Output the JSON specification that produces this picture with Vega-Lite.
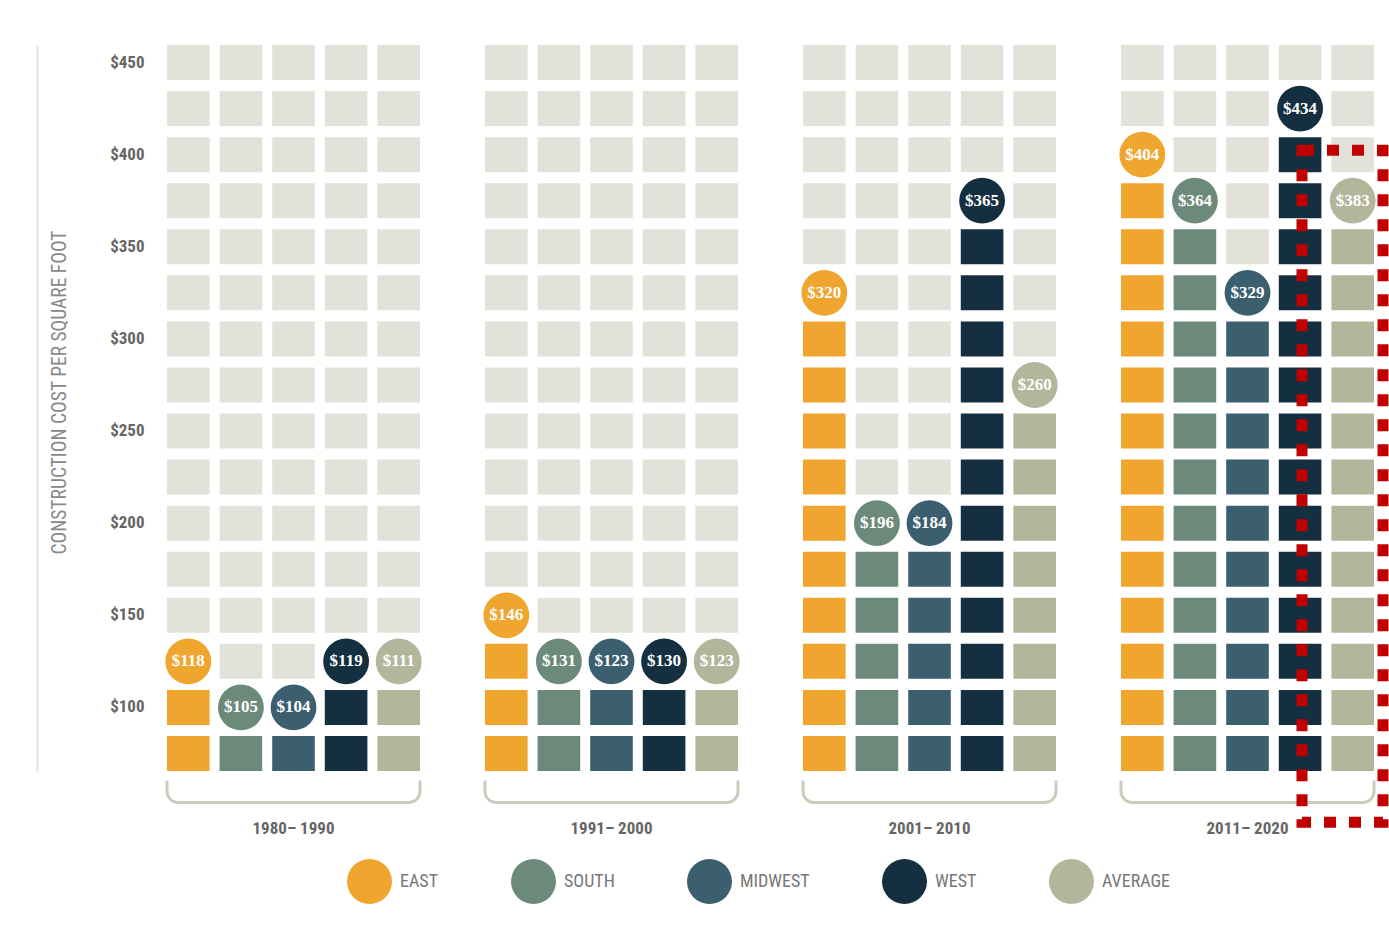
{
 "$schema": "https://vega.github.io/schema/vega-lite/v6.json",
 "autosize": {"type": "pad"},
 "padding": {"left": 37, "top": 45, "right": 0, "bottom": 0},
 "background": "#ffffff",
 "data": {"values": [
{"d":"1980– 1990","r":"EAST","l":75,"s":"f"},{"d":"1980– 1990","r":"EAST","l":100,"s":"f"},{"d":"1980– 1990","r":"EAST","l":125,"s":"c","v":118},{"d":"1980– 1990","r":"EAST","l":150,"s":"b"},{"d":"1980– 1990","r":"EAST","l":175,"s":"b"},{"d":"1980– 1990","r":"EAST","l":200,"s":"b"},{"d":"1980– 1990","r":"EAST","l":225,"s":"b"},{"d":"1980– 1990","r":"EAST","l":250,"s":"b"},{"d":"1980– 1990","r":"EAST","l":275,"s":"b"},{"d":"1980– 1990","r":"EAST","l":300,"s":"b"},{"d":"1980– 1990","r":"EAST","l":325,"s":"b"},{"d":"1980– 1990","r":"EAST","l":350,"s":"b"},{"d":"1980– 1990","r":"EAST","l":375,"s":"b"},{"d":"1980– 1990","r":"EAST","l":400,"s":"b"},{"d":"1980– 1990","r":"EAST","l":425,"s":"b"},{"d":"1980– 1990","r":"EAST","l":450,"s":"b"},
{"d":"1980– 1990","r":"SOUTH","l":75,"s":"f"},{"d":"1980– 1990","r":"SOUTH","l":100,"s":"c","v":105},{"d":"1980– 1990","r":"SOUTH","l":125,"s":"b"},{"d":"1980– 1990","r":"SOUTH","l":150,"s":"b"},{"d":"1980– 1990","r":"SOUTH","l":175,"s":"b"},{"d":"1980– 1990","r":"SOUTH","l":200,"s":"b"},{"d":"1980– 1990","r":"SOUTH","l":225,"s":"b"},{"d":"1980– 1990","r":"SOUTH","l":250,"s":"b"},{"d":"1980– 1990","r":"SOUTH","l":275,"s":"b"},{"d":"1980– 1990","r":"SOUTH","l":300,"s":"b"},{"d":"1980– 1990","r":"SOUTH","l":325,"s":"b"},{"d":"1980– 1990","r":"SOUTH","l":350,"s":"b"},{"d":"1980– 1990","r":"SOUTH","l":375,"s":"b"},{"d":"1980– 1990","r":"SOUTH","l":400,"s":"b"},{"d":"1980– 1990","r":"SOUTH","l":425,"s":"b"},{"d":"1980– 1990","r":"SOUTH","l":450,"s":"b"},
{"d":"1980– 1990","r":"MIDWEST","l":75,"s":"f"},{"d":"1980– 1990","r":"MIDWEST","l":100,"s":"c","v":104},{"d":"1980– 1990","r":"MIDWEST","l":125,"s":"b"},{"d":"1980– 1990","r":"MIDWEST","l":150,"s":"b"},{"d":"1980– 1990","r":"MIDWEST","l":175,"s":"b"},{"d":"1980– 1990","r":"MIDWEST","l":200,"s":"b"},{"d":"1980– 1990","r":"MIDWEST","l":225,"s":"b"},{"d":"1980– 1990","r":"MIDWEST","l":250,"s":"b"},{"d":"1980– 1990","r":"MIDWEST","l":275,"s":"b"},{"d":"1980– 1990","r":"MIDWEST","l":300,"s":"b"},{"d":"1980– 1990","r":"MIDWEST","l":325,"s":"b"},{"d":"1980– 1990","r":"MIDWEST","l":350,"s":"b"},{"d":"1980– 1990","r":"MIDWEST","l":375,"s":"b"},{"d":"1980– 1990","r":"MIDWEST","l":400,"s":"b"},{"d":"1980– 1990","r":"MIDWEST","l":425,"s":"b"},{"d":"1980– 1990","r":"MIDWEST","l":450,"s":"b"},
{"d":"1980– 1990","r":"WEST","l":75,"s":"f"},{"d":"1980– 1990","r":"WEST","l":100,"s":"f"},{"d":"1980– 1990","r":"WEST","l":125,"s":"c","v":119},{"d":"1980– 1990","r":"WEST","l":150,"s":"b"},{"d":"1980– 1990","r":"WEST","l":175,"s":"b"},{"d":"1980– 1990","r":"WEST","l":200,"s":"b"},{"d":"1980– 1990","r":"WEST","l":225,"s":"b"},{"d":"1980– 1990","r":"WEST","l":250,"s":"b"},{"d":"1980– 1990","r":"WEST","l":275,"s":"b"},{"d":"1980– 1990","r":"WEST","l":300,"s":"b"},{"d":"1980– 1990","r":"WEST","l":325,"s":"b"},{"d":"1980– 1990","r":"WEST","l":350,"s":"b"},{"d":"1980– 1990","r":"WEST","l":375,"s":"b"},{"d":"1980– 1990","r":"WEST","l":400,"s":"b"},{"d":"1980– 1990","r":"WEST","l":425,"s":"b"},{"d":"1980– 1990","r":"WEST","l":450,"s":"b"},
{"d":"1980– 1990","r":"AVERAGE","l":75,"s":"f"},{"d":"1980– 1990","r":"AVERAGE","l":100,"s":"f"},{"d":"1980– 1990","r":"AVERAGE","l":125,"s":"c","v":111},{"d":"1980– 1990","r":"AVERAGE","l":150,"s":"b"},{"d":"1980– 1990","r":"AVERAGE","l":175,"s":"b"},{"d":"1980– 1990","r":"AVERAGE","l":200,"s":"b"},{"d":"1980– 1990","r":"AVERAGE","l":225,"s":"b"},{"d":"1980– 1990","r":"AVERAGE","l":250,"s":"b"},{"d":"1980– 1990","r":"AVERAGE","l":275,"s":"b"},{"d":"1980– 1990","r":"AVERAGE","l":300,"s":"b"},{"d":"1980– 1990","r":"AVERAGE","l":325,"s":"b"},{"d":"1980– 1990","r":"AVERAGE","l":350,"s":"b"},{"d":"1980– 1990","r":"AVERAGE","l":375,"s":"b"},{"d":"1980– 1990","r":"AVERAGE","l":400,"s":"b"},{"d":"1980– 1990","r":"AVERAGE","l":425,"s":"b"},{"d":"1980– 1990","r":"AVERAGE","l":450,"s":"b"},
{"d":"1991– 2000","r":"EAST","l":75,"s":"f"},{"d":"1991– 2000","r":"EAST","l":100,"s":"f"},{"d":"1991– 2000","r":"EAST","l":125,"s":"f"},{"d":"1991– 2000","r":"EAST","l":150,"s":"c","v":146},{"d":"1991– 2000","r":"EAST","l":175,"s":"b"},{"d":"1991– 2000","r":"EAST","l":200,"s":"b"},{"d":"1991– 2000","r":"EAST","l":225,"s":"b"},{"d":"1991– 2000","r":"EAST","l":250,"s":"b"},{"d":"1991– 2000","r":"EAST","l":275,"s":"b"},{"d":"1991– 2000","r":"EAST","l":300,"s":"b"},{"d":"1991– 2000","r":"EAST","l":325,"s":"b"},{"d":"1991– 2000","r":"EAST","l":350,"s":"b"},{"d":"1991– 2000","r":"EAST","l":375,"s":"b"},{"d":"1991– 2000","r":"EAST","l":400,"s":"b"},{"d":"1991– 2000","r":"EAST","l":425,"s":"b"},{"d":"1991– 2000","r":"EAST","l":450,"s":"b"},
{"d":"1991– 2000","r":"SOUTH","l":75,"s":"f"},{"d":"1991– 2000","r":"SOUTH","l":100,"s":"f"},{"d":"1991– 2000","r":"SOUTH","l":125,"s":"c","v":131},{"d":"1991– 2000","r":"SOUTH","l":150,"s":"b"},{"d":"1991– 2000","r":"SOUTH","l":175,"s":"b"},{"d":"1991– 2000","r":"SOUTH","l":200,"s":"b"},{"d":"1991– 2000","r":"SOUTH","l":225,"s":"b"},{"d":"1991– 2000","r":"SOUTH","l":250,"s":"b"},{"d":"1991– 2000","r":"SOUTH","l":275,"s":"b"},{"d":"1991– 2000","r":"SOUTH","l":300,"s":"b"},{"d":"1991– 2000","r":"SOUTH","l":325,"s":"b"},{"d":"1991– 2000","r":"SOUTH","l":350,"s":"b"},{"d":"1991– 2000","r":"SOUTH","l":375,"s":"b"},{"d":"1991– 2000","r":"SOUTH","l":400,"s":"b"},{"d":"1991– 2000","r":"SOUTH","l":425,"s":"b"},{"d":"1991– 2000","r":"SOUTH","l":450,"s":"b"},
{"d":"1991– 2000","r":"MIDWEST","l":75,"s":"f"},{"d":"1991– 2000","r":"MIDWEST","l":100,"s":"f"},{"d":"1991– 2000","r":"MIDWEST","l":125,"s":"c","v":123},{"d":"1991– 2000","r":"MIDWEST","l":150,"s":"b"},{"d":"1991– 2000","r":"MIDWEST","l":175,"s":"b"},{"d":"1991– 2000","r":"MIDWEST","l":200,"s":"b"},{"d":"1991– 2000","r":"MIDWEST","l":225,"s":"b"},{"d":"1991– 2000","r":"MIDWEST","l":250,"s":"b"},{"d":"1991– 2000","r":"MIDWEST","l":275,"s":"b"},{"d":"1991– 2000","r":"MIDWEST","l":300,"s":"b"},{"d":"1991– 2000","r":"MIDWEST","l":325,"s":"b"},{"d":"1991– 2000","r":"MIDWEST","l":350,"s":"b"},{"d":"1991– 2000","r":"MIDWEST","l":375,"s":"b"},{"d":"1991– 2000","r":"MIDWEST","l":400,"s":"b"},{"d":"1991– 2000","r":"MIDWEST","l":425,"s":"b"},{"d":"1991– 2000","r":"MIDWEST","l":450,"s":"b"},
{"d":"1991– 2000","r":"WEST","l":75,"s":"f"},{"d":"1991– 2000","r":"WEST","l":100,"s":"f"},{"d":"1991– 2000","r":"WEST","l":125,"s":"c","v":130},{"d":"1991– 2000","r":"WEST","l":150,"s":"b"},{"d":"1991– 2000","r":"WEST","l":175,"s":"b"},{"d":"1991– 2000","r":"WEST","l":200,"s":"b"},{"d":"1991– 2000","r":"WEST","l":225,"s":"b"},{"d":"1991– 2000","r":"WEST","l":250,"s":"b"},{"d":"1991– 2000","r":"WEST","l":275,"s":"b"},{"d":"1991– 2000","r":"WEST","l":300,"s":"b"},{"d":"1991– 2000","r":"WEST","l":325,"s":"b"},{"d":"1991– 2000","r":"WEST","l":350,"s":"b"},{"d":"1991– 2000","r":"WEST","l":375,"s":"b"},{"d":"1991– 2000","r":"WEST","l":400,"s":"b"},{"d":"1991– 2000","r":"WEST","l":425,"s":"b"},{"d":"1991– 2000","r":"WEST","l":450,"s":"b"},
{"d":"1991– 2000","r":"AVERAGE","l":75,"s":"f"},{"d":"1991– 2000","r":"AVERAGE","l":100,"s":"f"},{"d":"1991– 2000","r":"AVERAGE","l":125,"s":"c","v":123},{"d":"1991– 2000","r":"AVERAGE","l":150,"s":"b"},{"d":"1991– 2000","r":"AVERAGE","l":175,"s":"b"},{"d":"1991– 2000","r":"AVERAGE","l":200,"s":"b"},{"d":"1991– 2000","r":"AVERAGE","l":225,"s":"b"},{"d":"1991– 2000","r":"AVERAGE","l":250,"s":"b"},{"d":"1991– 2000","r":"AVERAGE","l":275,"s":"b"},{"d":"1991– 2000","r":"AVERAGE","l":300,"s":"b"},{"d":"1991– 2000","r":"AVERAGE","l":325,"s":"b"},{"d":"1991– 2000","r":"AVERAGE","l":350,"s":"b"},{"d":"1991– 2000","r":"AVERAGE","l":375,"s":"b"},{"d":"1991– 2000","r":"AVERAGE","l":400,"s":"b"},{"d":"1991– 2000","r":"AVERAGE","l":425,"s":"b"},{"d":"1991– 2000","r":"AVERAGE","l":450,"s":"b"},
{"d":"2001– 2010","r":"EAST","l":75,"s":"f"},{"d":"2001– 2010","r":"EAST","l":100,"s":"f"},{"d":"2001– 2010","r":"EAST","l":125,"s":"f"},{"d":"2001– 2010","r":"EAST","l":150,"s":"f"},{"d":"2001– 2010","r":"EAST","l":175,"s":"f"},{"d":"2001– 2010","r":"EAST","l":200,"s":"f"},{"d":"2001– 2010","r":"EAST","l":225,"s":"f"},{"d":"2001– 2010","r":"EAST","l":250,"s":"f"},{"d":"2001– 2010","r":"EAST","l":275,"s":"f"},{"d":"2001– 2010","r":"EAST","l":300,"s":"f"},{"d":"2001– 2010","r":"EAST","l":325,"s":"c","v":320},{"d":"2001– 2010","r":"EAST","l":350,"s":"b"},{"d":"2001– 2010","r":"EAST","l":375,"s":"b"},{"d":"2001– 2010","r":"EAST","l":400,"s":"b"},{"d":"2001– 2010","r":"EAST","l":425,"s":"b"},{"d":"2001– 2010","r":"EAST","l":450,"s":"b"},
{"d":"2001– 2010","r":"SOUTH","l":75,"s":"f"},{"d":"2001– 2010","r":"SOUTH","l":100,"s":"f"},{"d":"2001– 2010","r":"SOUTH","l":125,"s":"f"},{"d":"2001– 2010","r":"SOUTH","l":150,"s":"f"},{"d":"2001– 2010","r":"SOUTH","l":175,"s":"f"},{"d":"2001– 2010","r":"SOUTH","l":200,"s":"c","v":196},{"d":"2001– 2010","r":"SOUTH","l":225,"s":"b"},{"d":"2001– 2010","r":"SOUTH","l":250,"s":"b"},{"d":"2001– 2010","r":"SOUTH","l":275,"s":"b"},{"d":"2001– 2010","r":"SOUTH","l":300,"s":"b"},{"d":"2001– 2010","r":"SOUTH","l":325,"s":"b"},{"d":"2001– 2010","r":"SOUTH","l":350,"s":"b"},{"d":"2001– 2010","r":"SOUTH","l":375,"s":"b"},{"d":"2001– 2010","r":"SOUTH","l":400,"s":"b"},{"d":"2001– 2010","r":"SOUTH","l":425,"s":"b"},{"d":"2001– 2010","r":"SOUTH","l":450,"s":"b"},
{"d":"2001– 2010","r":"MIDWEST","l":75,"s":"f"},{"d":"2001– 2010","r":"MIDWEST","l":100,"s":"f"},{"d":"2001– 2010","r":"MIDWEST","l":125,"s":"f"},{"d":"2001– 2010","r":"MIDWEST","l":150,"s":"f"},{"d":"2001– 2010","r":"MIDWEST","l":175,"s":"f"},{"d":"2001– 2010","r":"MIDWEST","l":200,"s":"c","v":184},{"d":"2001– 2010","r":"MIDWEST","l":225,"s":"b"},{"d":"2001– 2010","r":"MIDWEST","l":250,"s":"b"},{"d":"2001– 2010","r":"MIDWEST","l":275,"s":"b"},{"d":"2001– 2010","r":"MIDWEST","l":300,"s":"b"},{"d":"2001– 2010","r":"MIDWEST","l":325,"s":"b"},{"d":"2001– 2010","r":"MIDWEST","l":350,"s":"b"},{"d":"2001– 2010","r":"MIDWEST","l":375,"s":"b"},{"d":"2001– 2010","r":"MIDWEST","l":400,"s":"b"},{"d":"2001– 2010","r":"MIDWEST","l":425,"s":"b"},{"d":"2001– 2010","r":"MIDWEST","l":450,"s":"b"},
{"d":"2001– 2010","r":"WEST","l":75,"s":"f"},{"d":"2001– 2010","r":"WEST","l":100,"s":"f"},{"d":"2001– 2010","r":"WEST","l":125,"s":"f"},{"d":"2001– 2010","r":"WEST","l":150,"s":"f"},{"d":"2001– 2010","r":"WEST","l":175,"s":"f"},{"d":"2001– 2010","r":"WEST","l":200,"s":"f"},{"d":"2001– 2010","r":"WEST","l":225,"s":"f"},{"d":"2001– 2010","r":"WEST","l":250,"s":"f"},{"d":"2001– 2010","r":"WEST","l":275,"s":"f"},{"d":"2001– 2010","r":"WEST","l":300,"s":"f"},{"d":"2001– 2010","r":"WEST","l":325,"s":"f"},{"d":"2001– 2010","r":"WEST","l":350,"s":"f"},{"d":"2001– 2010","r":"WEST","l":375,"s":"c","v":365},{"d":"2001– 2010","r":"WEST","l":400,"s":"b"},{"d":"2001– 2010","r":"WEST","l":425,"s":"b"},{"d":"2001– 2010","r":"WEST","l":450,"s":"b"},
{"d":"2001– 2010","r":"AVERAGE","l":75,"s":"f"},{"d":"2001– 2010","r":"AVERAGE","l":100,"s":"f"},{"d":"2001– 2010","r":"AVERAGE","l":125,"s":"f"},{"d":"2001– 2010","r":"AVERAGE","l":150,"s":"f"},{"d":"2001– 2010","r":"AVERAGE","l":175,"s":"f"},{"d":"2001– 2010","r":"AVERAGE","l":200,"s":"f"},{"d":"2001– 2010","r":"AVERAGE","l":225,"s":"f"},{"d":"2001– 2010","r":"AVERAGE","l":250,"s":"f"},{"d":"2001– 2010","r":"AVERAGE","l":275,"s":"c","v":260},{"d":"2001– 2010","r":"AVERAGE","l":300,"s":"b"},{"d":"2001– 2010","r":"AVERAGE","l":325,"s":"b"},{"d":"2001– 2010","r":"AVERAGE","l":350,"s":"b"},{"d":"2001– 2010","r":"AVERAGE","l":375,"s":"b"},{"d":"2001– 2010","r":"AVERAGE","l":400,"s":"b"},{"d":"2001– 2010","r":"AVERAGE","l":425,"s":"b"},{"d":"2001– 2010","r":"AVERAGE","l":450,"s":"b"},
{"d":"2011– 2020","r":"EAST","l":75,"s":"f"},{"d":"2011– 2020","r":"EAST","l":100,"s":"f"},{"d":"2011– 2020","r":"EAST","l":125,"s":"f"},{"d":"2011– 2020","r":"EAST","l":150,"s":"f"},{"d":"2011– 2020","r":"EAST","l":175,"s":"f"},{"d":"2011– 2020","r":"EAST","l":200,"s":"f"},{"d":"2011– 2020","r":"EAST","l":225,"s":"f"},{"d":"2011– 2020","r":"EAST","l":250,"s":"f"},{"d":"2011– 2020","r":"EAST","l":275,"s":"f"},{"d":"2011– 2020","r":"EAST","l":300,"s":"f"},{"d":"2011– 2020","r":"EAST","l":325,"s":"f"},{"d":"2011– 2020","r":"EAST","l":350,"s":"f"},{"d":"2011– 2020","r":"EAST","l":375,"s":"f"},{"d":"2011– 2020","r":"EAST","l":400,"s":"c","v":404},{"d":"2011– 2020","r":"EAST","l":425,"s":"b"},{"d":"2011– 2020","r":"EAST","l":450,"s":"b"},
{"d":"2011– 2020","r":"SOUTH","l":75,"s":"f"},{"d":"2011– 2020","r":"SOUTH","l":100,"s":"f"},{"d":"2011– 2020","r":"SOUTH","l":125,"s":"f"},{"d":"2011– 2020","r":"SOUTH","l":150,"s":"f"},{"d":"2011– 2020","r":"SOUTH","l":175,"s":"f"},{"d":"2011– 2020","r":"SOUTH","l":200,"s":"f"},{"d":"2011– 2020","r":"SOUTH","l":225,"s":"f"},{"d":"2011– 2020","r":"SOUTH","l":250,"s":"f"},{"d":"2011– 2020","r":"SOUTH","l":275,"s":"f"},{"d":"2011– 2020","r":"SOUTH","l":300,"s":"f"},{"d":"2011– 2020","r":"SOUTH","l":325,"s":"f"},{"d":"2011– 2020","r":"SOUTH","l":350,"s":"f"},{"d":"2011– 2020","r":"SOUTH","l":375,"s":"c","v":364},{"d":"2011– 2020","r":"SOUTH","l":400,"s":"b"},{"d":"2011– 2020","r":"SOUTH","l":425,"s":"b"},{"d":"2011– 2020","r":"SOUTH","l":450,"s":"b"},
{"d":"2011– 2020","r":"MIDWEST","l":75,"s":"f"},{"d":"2011– 2020","r":"MIDWEST","l":100,"s":"f"},{"d":"2011– 2020","r":"MIDWEST","l":125,"s":"f"},{"d":"2011– 2020","r":"MIDWEST","l":150,"s":"f"},{"d":"2011– 2020","r":"MIDWEST","l":175,"s":"f"},{"d":"2011– 2020","r":"MIDWEST","l":200,"s":"f"},{"d":"2011– 2020","r":"MIDWEST","l":225,"s":"f"},{"d":"2011– 2020","r":"MIDWEST","l":250,"s":"f"},{"d":"2011– 2020","r":"MIDWEST","l":275,"s":"f"},{"d":"2011– 2020","r":"MIDWEST","l":300,"s":"f"},{"d":"2011– 2020","r":"MIDWEST","l":325,"s":"c","v":329},{"d":"2011– 2020","r":"MIDWEST","l":350,"s":"b"},{"d":"2011– 2020","r":"MIDWEST","l":375,"s":"b"},{"d":"2011– 2020","r":"MIDWEST","l":400,"s":"b"},{"d":"2011– 2020","r":"MIDWEST","l":425,"s":"b"},{"d":"2011– 2020","r":"MIDWEST","l":450,"s":"b"},
{"d":"2011– 2020","r":"WEST","l":75,"s":"f"},{"d":"2011– 2020","r":"WEST","l":100,"s":"f"},{"d":"2011– 2020","r":"WEST","l":125,"s":"f"},{"d":"2011– 2020","r":"WEST","l":150,"s":"f"},{"d":"2011– 2020","r":"WEST","l":175,"s":"f"},{"d":"2011– 2020","r":"WEST","l":200,"s":"f"},{"d":"2011– 2020","r":"WEST","l":225,"s":"f"},{"d":"2011– 2020","r":"WEST","l":250,"s":"f"},{"d":"2011– 2020","r":"WEST","l":275,"s":"f"},{"d":"2011– 2020","r":"WEST","l":300,"s":"f"},{"d":"2011– 2020","r":"WEST","l":325,"s":"f"},{"d":"2011– 2020","r":"WEST","l":350,"s":"f"},{"d":"2011– 2020","r":"WEST","l":375,"s":"f"},{"d":"2011– 2020","r":"WEST","l":400,"s":"f"},{"d":"2011– 2020","r":"WEST","l":425,"s":"c","v":434},{"d":"2011– 2020","r":"WEST","l":450,"s":"b"},
{"d":"2011– 2020","r":"AVERAGE","l":75,"s":"f"},{"d":"2011– 2020","r":"AVERAGE","l":100,"s":"f"},{"d":"2011– 2020","r":"AVERAGE","l":125,"s":"f"},{"d":"2011– 2020","r":"AVERAGE","l":150,"s":"f"},{"d":"2011– 2020","r":"AVERAGE","l":175,"s":"f"},{"d":"2011– 2020","r":"AVERAGE","l":200,"s":"f"},{"d":"2011– 2020","r":"AVERAGE","l":225,"s":"f"},{"d":"2011– 2020","r":"AVERAGE","l":250,"s":"f"},{"d":"2011– 2020","r":"AVERAGE","l":275,"s":"f"},{"d":"2011– 2020","r":"AVERAGE","l":300,"s":"f"},{"d":"2011– 2020","r":"AVERAGE","l":325,"s":"f"},{"d":"2011– 2020","r":"AVERAGE","l":350,"s":"f"},{"d":"2011– 2020","r":"AVERAGE","l":375,"s":"c","v":383},{"d":"2011– 2020","r":"AVERAGE","l":400,"s":"b"},{"d":"2011– 2020","r":"AVERAGE","l":425,"s":"b"},{"d":"2011– 2020","r":"AVERAGE","l":450,"s":"b"}
 ]},
 "facet": {"column": {"field": "d", "type": "ordinal", "title": null,
   "sort": ["1980– 1990", "1991– 2000", "2001– 2010", "2011– 2020"],
   "header": {"labelOrient": "bottom", "labelPadding": 50, "labelBaseline": "top",
     "labelFont": "Liberation Sans Narrow, Roboto Condensed, Roboto, sans-serif",
     "labelFontSize": 17, "labelFontWeight": "bold", "labelColor": "#666666"}}},
 "spacing": 65,
 "bounds": "flush",
 "spec": {
  "width": 253,
  "height": 726,
  "encoding": {
   "x": {"field": "r", "type": "nominal", "sort": ["EAST", "SOUTH", "MIDWEST", "WEST", "AVERAGE"],
     "scale": {"paddingInner": 0.19, "paddingOuter": 0}, "axis": null},
   "y": {"field": "l", "type": "ordinal", "sort": "descending",
     "scale": {"paddingInner": 0.24, "paddingOuter": 0},
     "axis": {"values": [450, 400, 350, 300, 250, 200, 150, 100], "labelExpr": "'$' + datum.value",
       "orient": "left", "offset": 130, "domain": true, "domainColor": "#e2e2e2", "domainWidth": 2,
       "ticks": false, "tickSize": 0, "labelPadding": -107, "labelAlign": "right", "grid": false,
       "labelFont": "Liberation Sans Narrow, Roboto Condensed, Roboto, sans-serif",
       "labelFontSize": 17, "labelFontWeight": "bold", "labelColor": "#666666",
       "title": "CONSTRUCTION COST PER SQUARE FOOT",
       "titleFont": "Liberation Sans Narrow, Roboto Condensed, Roboto, sans-serif",
       "titleFontSize": 19.5, "titleFontWeight": "normal", "titleColor": "#888888",
       "titleX": 22, "titleY": 347, "titleAngle": -90, "titleBaseline": "middle", "titleAlign": "center"}}
  },
  "layer": [
   {"transform": [{"filter": "datum.s === 'b'"}], "mark": {"type": "rect", "color": "#E3E2DA"}},
   {"transform": [{"filter": "datum.s === 'f'"}], "mark": {"type": "rect"},
    "encoding": {"color": {"field": "r", "type": "nominal",
      "scale": {"domain": ["EAST", "SOUTH", "MIDWEST", "WEST", "AVERAGE"], "range": ["#EFA52E", "#6C8A7B", "#3C5F70", "#142F3F", "#B4B69C"]},
      "legend": {"orient": "none", "legendX": 180, "legendY": 814, "direction": "horizontal", "title": null,
        "symbolType": "circle", "symbolSize": 2025, "symbolStrokeWidth": 0, "symbolOpacity": 1,
        "labelFont": "Liberation Sans Narrow, Roboto Condensed, Roboto, sans-serif",
        "labelFontSize": 18, "labelColor": "#777777", "labelOffset": 8, "columnPadding": 72}}}},
   {"transform": [{"filter": "datum.r === 'MIDWEST' && datum.l === 75"}],
    "mark": {"type": "rect", "width": 253, "height": 22, "yOffset": 38, "filled": false, "stroke": "#cdcbbd", "strokeWidth": 3,
      "cornerRadiusBottomLeft": 14, "cornerRadiusBottomRight": 14, "strokeDash": [0, 253, 2000]}},
   {"transform": [{"filter": "datum.s === 'c'"}], "mark": {"type": "point", "filled": true, "size": 2100, "opacity": 1},
    "encoding": {"color": {"field": "r", "type": "nominal"}}},
   {"transform": [{"filter": "datum.s === 'c'"}],
    "mark": {"type": "text", "color": "#ffffff", "font": "Liberation Serif, DejaVu Serif, serif", "fontSize": 17, "fontWeight": "bold", "align": "center", "baseline": "middle"},
    "encoding": {"text": {"field": "v", "type": "quantitative", "format": "$d"}}},
   {"transform": [{"filter": "datum.d === '2011– 2020' && datum.r === 'AVERAGE' && datum.l === 200"}],
    "mark": {"type": "rect", "width": 81, "height": 672, "xOffset": -10.2, "yOffset": -37, "filled": false, "stroke": "#C00000", "strokeWidth": 11, "strokeDash": [12, 13]}}
  ]
 },
 "config": {"view": {"stroke": null}}
}
